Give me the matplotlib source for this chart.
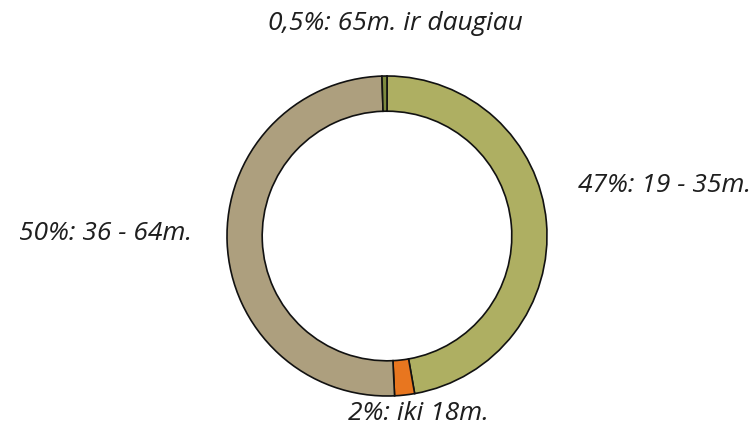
import matplotlib
matplotlib.use("Agg")
import matplotlib.pyplot as plt
from matplotlib import font_manager as fm
import os

# age groups, clockwise from top
labels = ["47%: 19 - 35m.", "2%: iki 18m.", "50%: 36 - 64m.", "0,5%: 65m. ir daugiau"]
values = [47, 2, 50, 0.5]
colors = ["#aeaf62", "#e8761f", "#ad9f7e", "#7d8a3e"]

# static Open Sans italic file if there is one
font_path = None
for f in fm.fontManager.ttflist:
    if os.path.basename(f.fname) == "OpenSans-Italic.ttf":
        font_path = f.fname
if font_path:
    fp = fm.FontProperties(fname=font_path, size=19)
else:
    fp = fm.FontProperties(family="Open Sans", style="italic", size=19)

fig = plt.figure(figsize=(7.54, 4.38), dpi=100)
ax = fig.add_axes([(387 - 160) / 754, (438 - 396) / 438, 320 / 754, 320 / 438])

ax.pie(values, colors=colors, startangle=90, counterclock=False, radius=1,
       wedgeprops=dict(width=0.22, edgecolor="#111111", linewidth=1.2))
ax.set_xlim(-1, 1)
ax.set_ylim(-1, 1)
ax.set_aspect("equal")
ax.axis("off")

txt = dict(fontproperties=fp, color="#1e1e1e")
fig.text(578 / 754, 1 - 185 / 438, labels[0], ha="left", va="center", **txt)
fig.text(418 / 754, 1 - 413 / 438, labels[1], ha="center", va="center", **txt)
fig.text(192 / 754, 1 - 233 / 438, labels[2], ha="right", va="center", **txt)
fig.text(395 / 754, 1 - 23 / 438, labels[3], ha="center", va="center", **txt)

fig.savefig("out.png", dpi=100)
